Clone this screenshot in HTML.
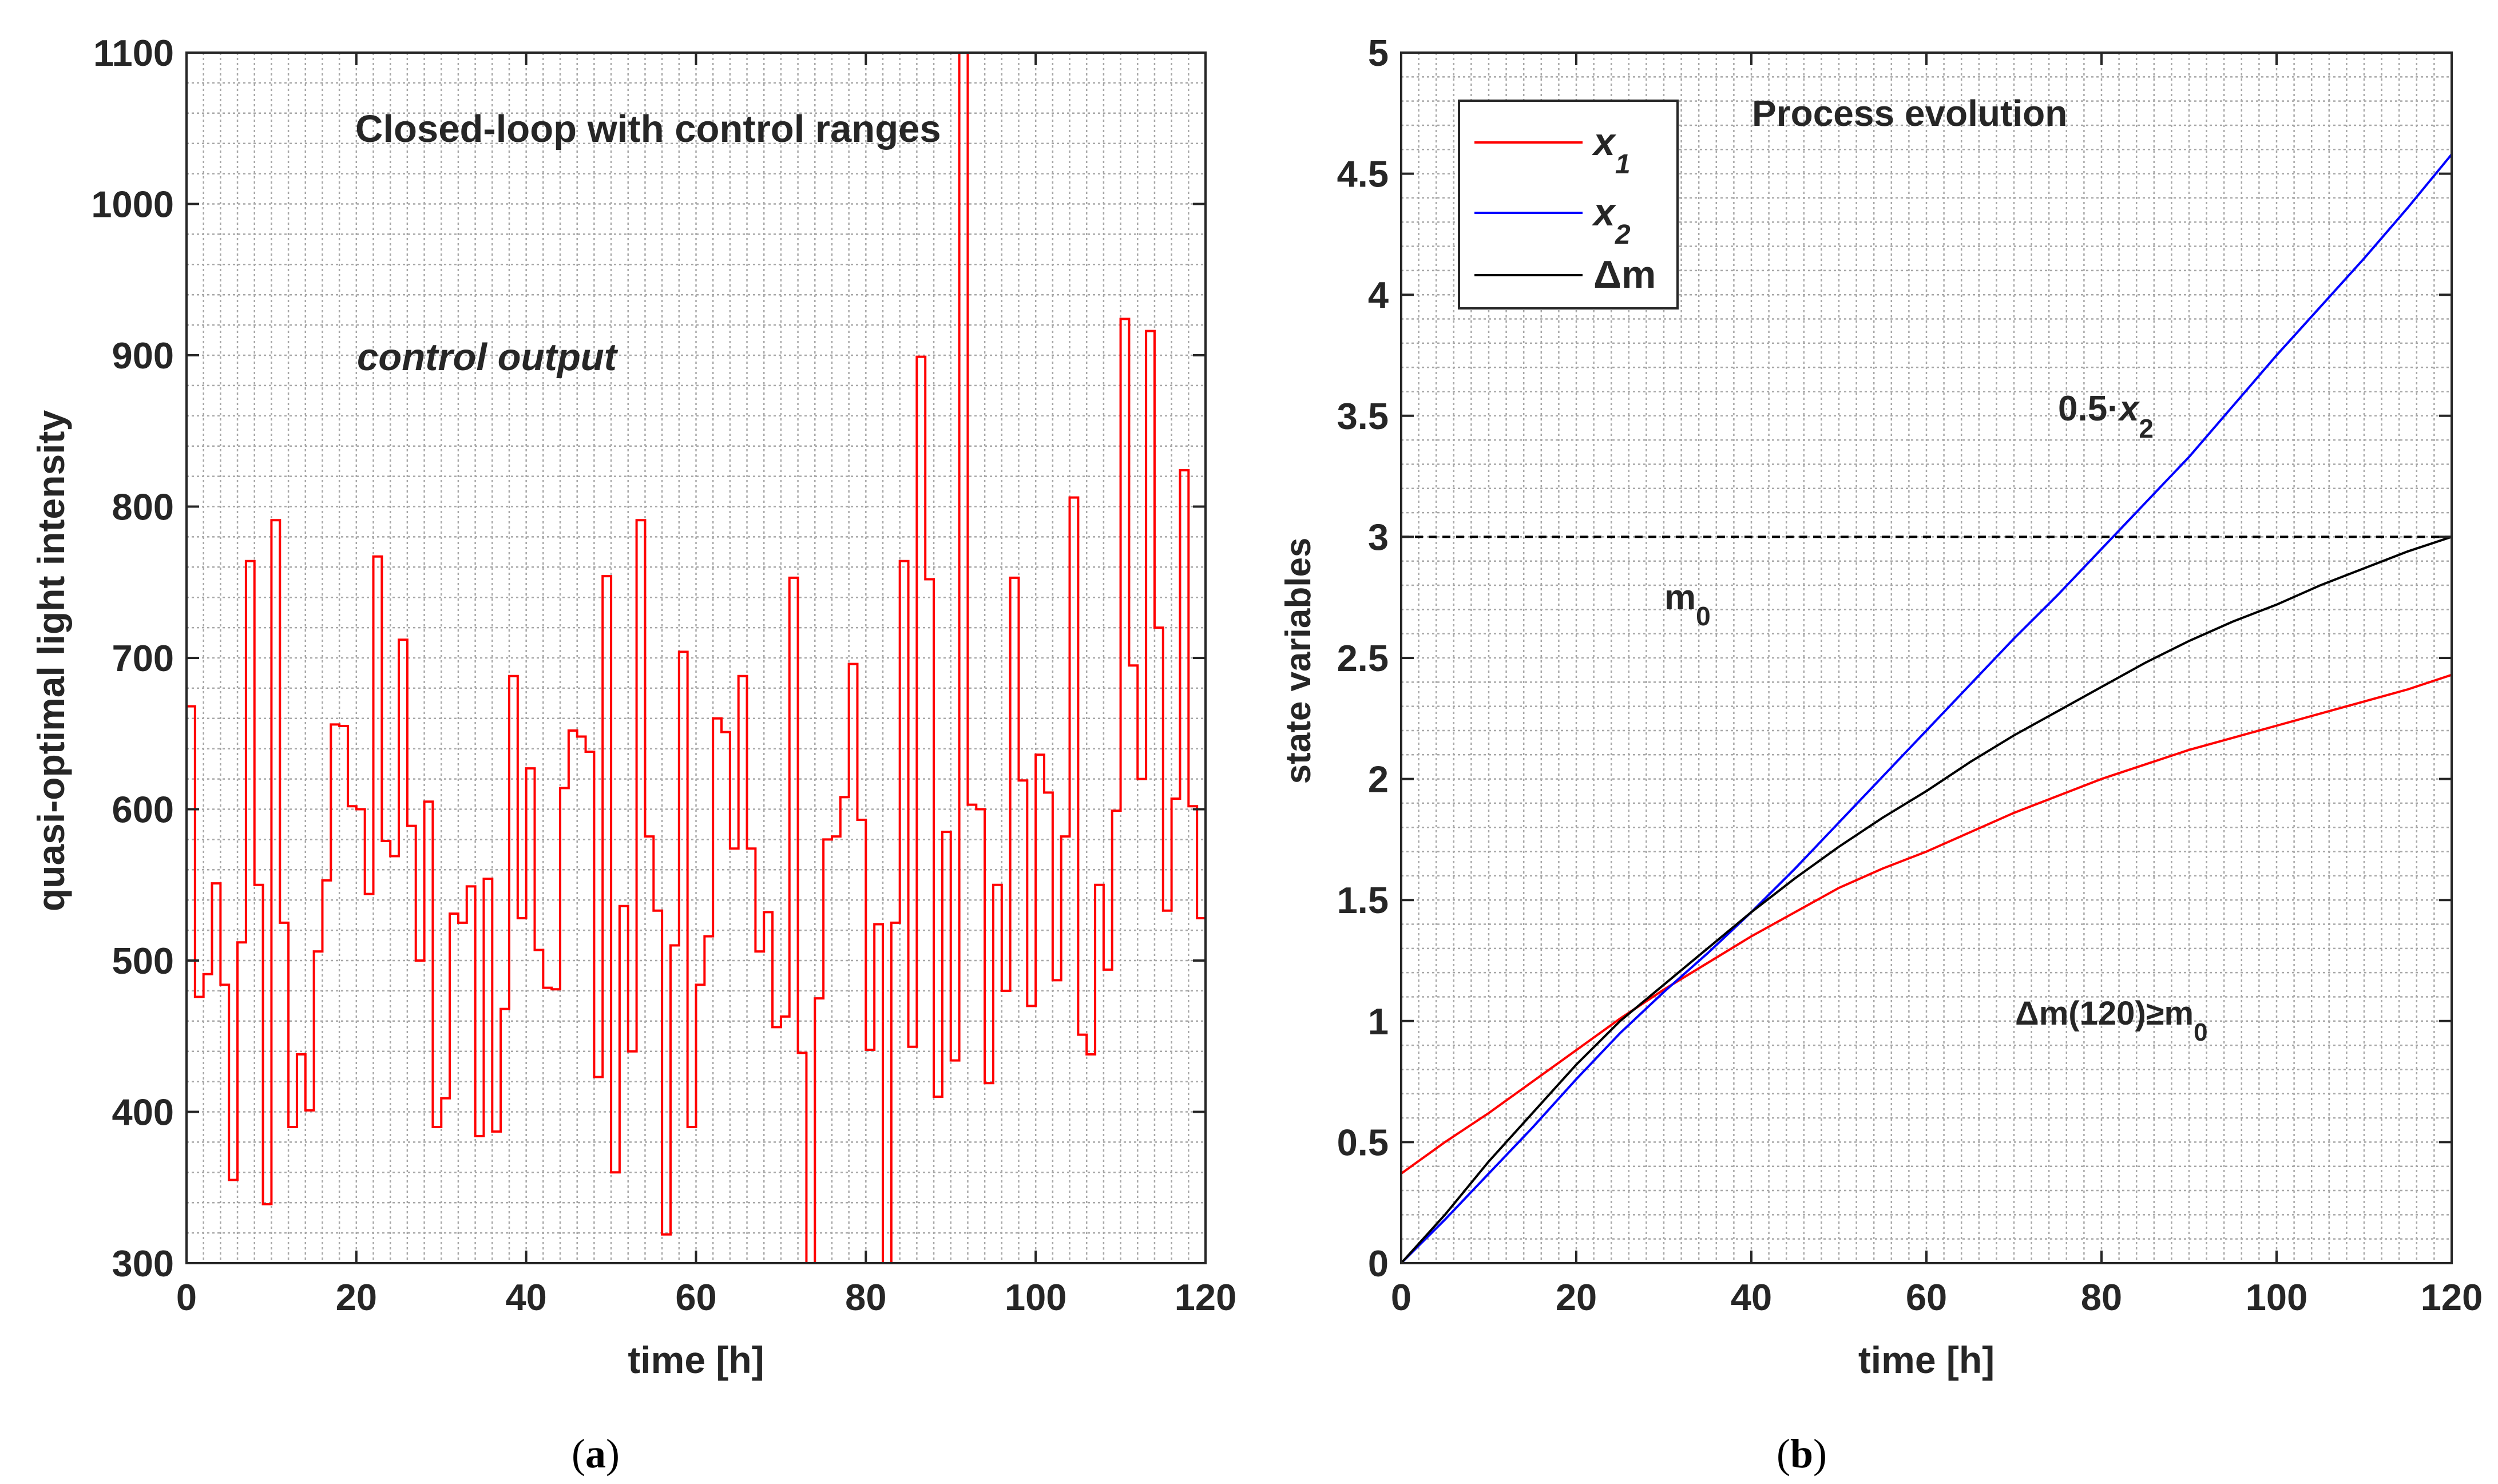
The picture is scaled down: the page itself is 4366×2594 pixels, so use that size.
<!DOCTYPE html>
<html><head><meta charset="utf-8"><style>
html,body{margin:0;padding:0;background:#fff}
svg{display:block}
text{font-family:"Liberation Sans",Arial,sans-serif;font-weight:bold;fill:#262626}
</style></head><body>
<svg id="fig" width="4366" height="2594" viewBox="0 0 4366 2594" xmlns="http://www.w3.org/2000/svg">
<rect width="4366" height="2594" fill="#fff"/>
<defs>
<clipPath id="clipA"><rect x="326" y="92" width="1781" height="2116"/></clipPath>
<clipPath id="clipB"><rect x="2449" y="92" width="1836" height="2116"/></clipPath>
</defs>
<g id="panelA"></g>
<g id="panelB"></g>
</svg>
<script>
// ---------- Panel (a) data ----------
const lightHours = [0,120];
const lightValues = [668,476,491,551,484,355,512,764,550,339,
791,525,390,438,401,506,553,656,655,602,
600,544,767,579,569,712,589,500,605,390,
409,531,525,549,384,554,387,468,688,528,
627,507,482,481,614,652,648,638,423,754,
360,536,440,791,582,533,319,510,704,390,
484,516,660,651,574,688,574,506,532,456,
463,753,439,250,475,580,582,608,696,593,
441,524,250,525,764,443,899,752,410,585,
434,1150,603,600,419,550,480,753,619,470,
636,611,487,582,806,451,438,550,494,599,
924,695,620,916,720,533,607,824,602,528];
const aYTicks = [300,400,500,600,700,800,900,1000,1100];
const aXTicks = [0,20,40,60,80,100,120];

// ---------- Panel (b) data ----------
const timeB = [0,5,10,15,20,25,30,35,40,45,50,55,60,65,70,75,80,85,90,95,100,105,110,115,120];
const x1Values = [0.37,0.50,0.62,0.75,0.88,1.01,1.13,1.24,1.35,1.45,1.55,1.63,1.70,1.78,1.86,1.93,2.00,2.06,2.12,2.17,2.22,2.27,2.32,2.37,2.43];
const x2Values = [0,0.18,0.37,0.56,0.76,0.95,1.12,1.28,1.45,1.63,1.82,2.01,2.20,2.39,2.58,2.76,2.95,3.14,3.33,3.54,3.75,3.95,4.15,4.36,4.58];
const dmValues = [0,0.20,0.42,0.62,0.82,1.00,1.15,1.30,1.45,1.59,1.72,1.84,1.95,2.07,2.18,2.28,2.38,2.48,2.57,2.65,2.72,2.80,2.87,2.94,3.00];
const m0Value = [3];
const bYTicks = [0,0.5,1,1.5,2,2.5,3,3.5,4,4.5,5];
const bXTicks = [0,20,40,60,80,100,120];

const NS = "http://www.w3.org/2000/svg";
function mk(tag, attrs, parent, txt){
  const e = document.createElementNS(NS, tag);
  for (const k in attrs) e.setAttribute(k, attrs[k]);
  if (txt !== undefined) e.textContent = txt;
  parent.appendChild(e);
  return e;
}

function drawAxes(g, L, R, T, B, xmin, xmax, ymin, ymax, xMinorStep, yMinorStep){
  const sx = v => L + (v - xmin) / (xmax - xmin) * (R - L);
  const sy = v => B - (v - ymin) / (ymax - ymin) * (B - T);
  const grid = mk('g', {}, g);
  
  
  const nx = Math.round((xmax - xmin) / xMinorStep);
  for (let i = 1; i < nx; i++){
    const v = xmin + i * xMinorStep;
    mk('line', {x1:sx(v), x2:sx(v), y1:T, y2:B, stroke:'#a8a8a8', 'stroke-width':2.5, 'stroke-dasharray':'4,5'}, grid);
  }
  const ny = Math.round((ymax - ymin) / yMinorStep);
  for (let i = 1; i < ny; i++){
    const v = ymin + i * yMinorStep;
    mk('line', {x1:L, x2:R, y1:sy(v), y2:sy(v), stroke:'#a8a8a8', 'stroke-width':2.5, 'stroke-dasharray':'4,5'}, grid);
  }
  return {sx, sy};
}

function frame(g, L, R, T, B, xT, yT, sx, sy, yFmt){
  mk('rect', {x:L, y:T, width:R-L, height:B-T, fill:'none', stroke:'#262626', 'stroke-width':4}, g);
  xT.forEach(v => {
    const x = sx(v);
    mk('line', {x1:x, x2:x, y1:B, y2:B-22, stroke:'#262626','stroke-width':4}, g);
    mk('line', {x1:x, x2:x, y1:T, y2:T+22, stroke:'#262626','stroke-width':4}, g);
    const t = mk('text', {x:x, y:B+82, 'font-size':65, 'text-anchor':'middle'}, g, String(v));
    
    
  });
  yT.forEach(v => {
    const y = sy(v);
    mk('line', {x1:L, x2:L+22, y1:y, y2:y, stroke:'#262626','stroke-width':4}, g);
    mk('line', {x1:R, x2:R-22, y1:y, y2:y, stroke:'#262626','stroke-width':4}, g);
    const t = mk('text', {x:L-22, y:y+23, 'font-size':65, 'text-anchor':'end'}, g, yFmt(v));
    
    
  });
}

// ---------- Panel (a) ----------
(function(){
  const g = document.getElementById('panelA');
  const L=326, R=2107, T=92, B=2208;
  const {sx, sy} = drawAxes(g, L, R, T, B, 0, 120, 300, 1100, 2, 20);
  const n = lightValues.length;
  const dt = (lightHours[1]-lightHours[0]) / n;
  let d = '';
  for (let i = 0; i < n; i++){
    const y = sy(lightValues[i]);
    d += (i===0 ? 'M' : 'L') + sx(i*dt) + ',' + y + 'L' + sx((i+1)*dt) + ',' + y;
  }
  const p = mk('path', {d:d, fill:'none', stroke:'#ff0000', 'stroke-width':4, 'clip-path':'url(#clipA)'}, g);
  
  
  frame(g, L, R, T, B, aXTicks, aYTicks, sx, sy, v => String(v));
  const t1 = mk('text', {x:621, y:248, 'font-size':67}, g, 'Closed-loop with control ranges');
  
  
  const t2 = mk('text', {x:624, y:647, 'font-size':67, 'font-style':'italic'}, g, 'control output');
  
  
  const xl = mk('text', {x:(L+R)/2, y:2400, 'font-size':66, 'text-anchor':'middle'}, g, 'time [h]');
  
  
  const yl = mk('text', {x:0, y:0, 'font-size':66, 'text-anchor':'middle', transform:'translate(112,1155) rotate(-90)'}, g, 'quasi-optimal light intensity');
  
  
  const cap = mk('text', {x:1041, y:2565, 'font-size':72, 'text-anchor':'middle', style:'font-family:"Liberation Serif",serif;font-weight:normal;fill:#000'}, g);
  
  
  cap.innerHTML = '(<tspan font-weight="bold">a</tspan>)';
})();

// ---------- Panel (b) ----------
(function(){
  const g = document.getElementById('panelB');
  const L=2449, R=4285, T=92, B=2208;
  const {sx, sy} = drawAxes(g, L, R, T, B, 0, 120, 0, 5, 2, 0.1);
  function line(vals, color, name){
    let d = '';
    timeB.forEach((t,i) => { d += (i?'L':'M') + sx(t) + ',' + sy(vals[i]); });
    const p = mk('path', {d:d, fill:'none', stroke:color, 'stroke-width':4, 'clip-path':'url(#clipB)'}, g);
    
    
  }
  const m0 = mk('line', {x1:sx(0), x2:sx(120), y1:sy(m0Value[0]), y2:sy(m0Value[0]), stroke:'#000', 'stroke-width':4, 'stroke-dasharray':'14,10'}, g);
  
  
  line(x1Values, '#ff0000', 'x1-line');
  line(x2Values, '#0000ff', 'x2-line');
  line(dmValues, '#000000', 'delta-m-line');
  frame(g, L, R, T, B, bXTicks, bYTicks, sx, sy, v => String(v));
  const lg = mk('g', {}, g);
  
  
  mk('rect', {x:2550, y:176, width:382, height:363, fill:'#fff', stroke:'#262626', 'stroke-width':4}, lg);
  const entries = [['#ff0000', 249, 'x', '1'], ['#0000ff', 372, 'x', '2'], ['#000000', 481, 'Δm', '']];
  entries.forEach(e => {
    const le = mk('g', {}, lg);
    
    
    mk('line', {x1:2577, x2:2766, y1:e[1], y2:e[1], stroke:e[0], 'stroke-width':4}, le);
    const t = mk('text', {x:2785, y:e[1]+22, 'font-size':68, 'font-style': e[3] ? 'italic' : 'normal'}, le, e[2]);
    if (e[3]) mk('tspan', {dy:32, 'font-size':48}, t, e[3]);
  });
  const pe = mk('text', {x:3062, y:220, 'font-size':64}, g, 'Process evolution');
  
  
  const hx = mk('text', {x:3597, y:735, 'font-size':62}, g, '0.5·');
  mk('tspan', {'font-style':'italic'}, hx, 'x');
  mk('tspan', {dy:30, 'font-size':46}, hx, '2');
  
  
  const mt = mk('text', {x:2909, y:1065, 'font-size':62}, g, 'm');
  mk('tspan', {dy:28, 'font-size':46}, mt, '0');
  
  
  const dt = mk('text', {x:3522, y:1791, 'font-size':58}, g, 'Δm(120)≥m');
  mk('tspan', {dy:28, 'font-size':44}, dt, '0');
  
  
  const xl = mk('text', {x:(L+R)/2, y:2400, 'font-size':66, 'text-anchor':'middle'}, g, 'time [h]');
  
  
  const yl = mk('text', {x:0, y:0, 'font-size':62, 'text-anchor':'middle', transform:'translate(2290,1155) rotate(-90)'}, g, 'state variables');
  
  
  const cap = mk('text', {x:3149, y:2565, 'font-size':72, 'text-anchor':'middle', style:'font-family:"Liberation Serif",serif;font-weight:normal;fill:#000'}, g);
  
  
  cap.innerHTML = '(<tspan font-weight="bold">b</tspan>)';
})();
</script>
</body></html>
